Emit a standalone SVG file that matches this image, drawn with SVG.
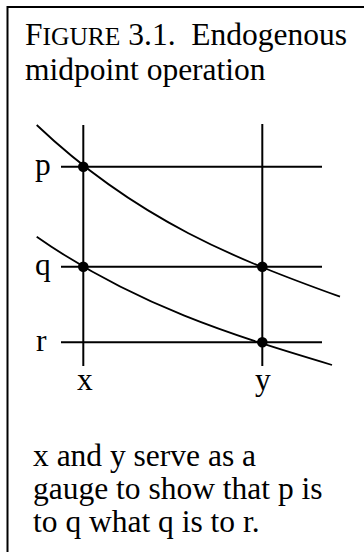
<svg xmlns="http://www.w3.org/2000/svg" width="364" height="552" viewBox="0 0 364 552">
<style>
text{font-family:"Liberation Serif","Times New Roman",serif;font-size:31.5px;fill:#000}
.ln{stroke:#000;stroke-width:2;fill:none}
.cv{stroke:#000;stroke-width:1.8;fill:none}
.dot{fill:#000}
</style>
<rect x="0" y="0" width="364" height="552" fill="#fff"/>
<rect x="7.5" y="7" width="420" height="620" fill="none" stroke="#000" stroke-width="2"/>
<g id="title">
<text x="25" y="45" xml:space="preserve">F<tspan font-size="25.5">IGURE</tspan> 3.1.  Endogenous</text>
<text x="25" y="80">midpoint operation</text>
</g>
<g id="connectors">
<line class="ln" x1="83.3" y1="125" x2="83.3" y2="366"/>
<line class="ln" x1="262.3" y1="124" x2="262.3" y2="366"/>
<line class="ln" x1="61" y1="166.7" x2="322" y2="166.7"/>
<line class="ln" x1="61" y1="266.7" x2="322" y2="266.7"/>
<line class="ln" x1="61" y1="342.3" x2="322" y2="342.3"/>
<path class="cv" d="M36.7,125 C137.8,221 239,260.3 340,296.7"/>
<path class="cv" d="M36.7,236.7 C135.1,305.6 233.6,335.5 332,365"/>
</g>
<g id="points">
<circle class="dot" cx="83.3" cy="166.7" r="5.3"/>
<circle class="dot" cx="83.3" cy="266.7" r="5.3"/>
<circle class="dot" cx="262.3" cy="266.7" r="5.3"/>
<circle class="dot" cx="262.3" cy="342.3" r="5.3"/>
</g>
<g id="labels">
<text x="35" y="175">p</text>
<text x="35" y="275">q</text>
<text x="36" y="351">r</text>
<text x="77" y="390">x</text>
<text x="255" y="390">y</text>
</g>
<g id="caption">
<text x="33" y="466">x and y serve as a</text>
<text x="33" y="499">gauge to show that p is</text>
<text x="33" y="532">to q what q is to r.</text>
</g>
</svg>
